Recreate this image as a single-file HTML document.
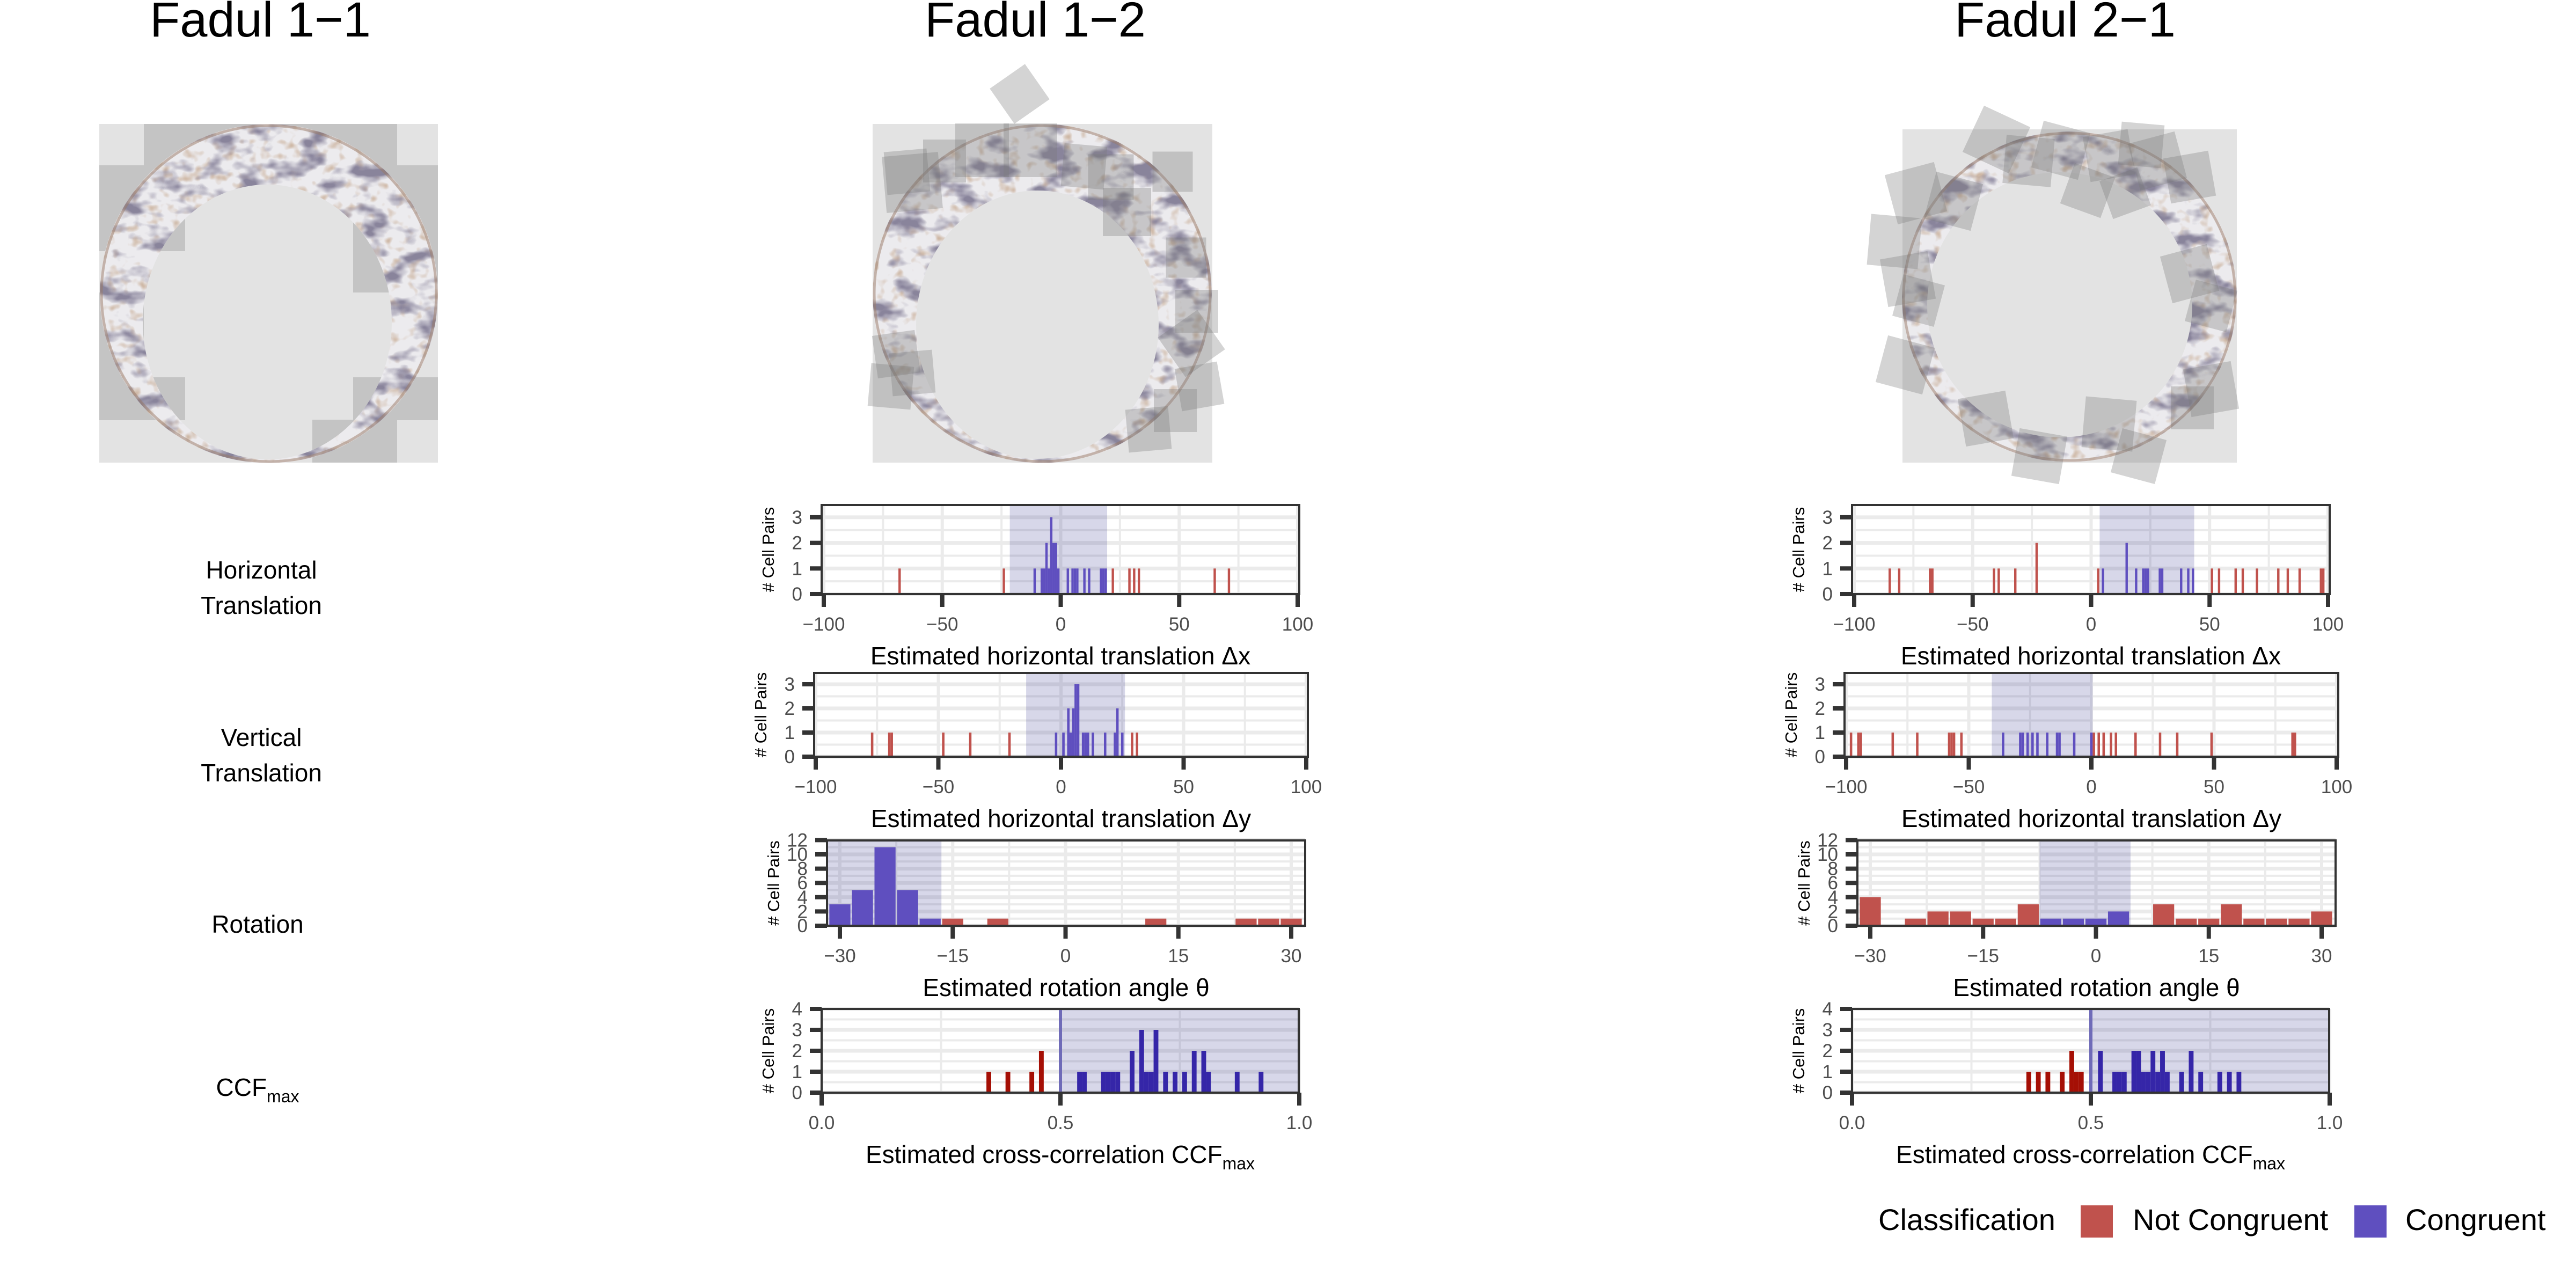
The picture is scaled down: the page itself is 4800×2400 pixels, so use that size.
<!DOCTYPE html>
<html><head><meta charset="utf-8"><style>
html,body{margin:0;padding:0;background:#fff;}
svg{display:block;font-family:"Liberation Sans",sans-serif;}
</style></head><body>
<svg id="fig" xmlns="http://www.w3.org/2000/svg" width="4800" height="2400" viewBox="0 0 4800 2400">
<defs>
<filter id="tex" x="0" y="0" width="100%" height="100%">
<feTurbulence type="fractalNoise" baseFrequency="0.018 0.03" numOctaves="3" seed="7" result="n"/>
<feColorMatrix in="n" type="matrix" values="0 0 0 0 0.25  0 0 0 0 0.23  0 0 0 0 0.33  -4 0 0 0 2.05"/>
</filter>
<filter id="tex2" x="0" y="0" width="100%" height="100%">
<feTurbulence type="fractalNoise" baseFrequency="0.05" numOctaves="2" seed="3" result="n"/>
<feColorMatrix in="n" type="matrix" values="0 0 0 0 0.62  0 0 0 0 0.48  0 0 0 0 0.38  0 -3.5 0 0 1.6"/>
</filter>
</defs>
<g id="images"></g>
<g id="charts"></g>
<g font-size="46" text-anchor="middle" fill="#000">
<text x="487" y="1078">Horizontal</text>
<text x="487" y="1144">Translation</text>
<text x="487" y="1390">Vertical</text>
<text x="487" y="1456">Translation</text>
<text x="480" y="1738">Rotation</text>
<text x="480" y="2042">CCF<tspan font-size="32" dy="12">max</tspan></text>
</g>
<g font-size="92" text-anchor="middle" fill="#000">
<text x="485" y="68">Fadul 1−1</text>
<text x="1929" y="68">Fadul 1−2</text>
<text x="3848" y="68">Fadul 2−1</text>
</g>
<g font-size="56" fill="#000">
<text x="3500" y="2292">Classification</text>
<rect x="3877" y="2246" width="60" height="60" fill="#c0524d"/>
<text x="3974" y="2292">Not Congruent</text>
<rect x="4387" y="2246" width="60" height="60" fill="#5f4fbf"/>
<text x="4482" y="2292">Congruent</text>
</g>
</svg>
<script>
// ---------- data ----------
const f12DxRedVals=[-68,-24,22,29,31,33,65,71];
const f12DxRedCounts=[1,1,1,1,1,1,1,1];
const f12DxBlueVals=[-11,-8,-7,-6,-5,-4,-3,-2,-1,3,5,6,7,10,12,17,18,19];
const f12DxBlueCounts=[1,1,1,2,1,3,2,2,1,1,1,1,1,1,1,1,1,1];
const f12DxShade=[-21.5,19.6];

const f12DyRedVals=[-77,-70,-69,-48,-37,-21,29,31];
const f12DyRedCounts=[1,1,1,1,1,1,1,1];
const f12DyBlueVals=[-2,1,3,4,5,6,7,9,10,11,13,18,22,23,25];
const f12DyBlueCounts=[1,1,2,1,2,3,3,1,1,1,1,1,1,2,1];
const f12DyShade=[-14.2,26.1];

const f12RotRedVals=[-15,-9,12,24,27,30];
const f12RotRedCounts=[1,1,1,1,1,1];
const f12RotBlueVals=[-30,-27,-24,-21,-18];
const f12RotBlueCounts=[3,5,11,5,1];
const f12RotShade=[-32,-16.5];

const f12CcfRedVals=[0.35,0.39,0.44,0.46];
const f12CcfRedCounts=[1,1,1,2];
const f12CcfBlueVals=[0.54,0.55,0.59,0.60,0.61,0.62,0.65,0.67,0.68,0.69,0.70,0.72,0.74,0.76,0.78,0.80,0.81,0.87,0.92];
const f12CcfBlueCounts=[1,1,1,1,1,1,2,3,1,1,3,1,1,1,2,2,1,1,1];

const f21DxRedVals=[-85,-81,-68,-67,-41,-39,-32,-23,3,51,54,61,64,70,79,83,88,97,98];
const f21DxRedCounts=[1,1,1,1,1,1,1,2,1,1,1,1,1,1,1,1,1,1,1];
const f21DxBlueVals=[5,15,19,22,23,24,29,30,38,41,43];
const f21DxBlueCounts=[1,2,1,1,1,1,1,1,1,1,1];
const f21DxShade=[3.6,43.5];

const f21DyRedVals=[-98,-95,-94,-81,-71,-58,-57,-56,-53,1,3,5,8,10,18,28,35,49,82,83];
const f21DyRedCounts=[1,1,1,1,1,1,1,1,1,1,1,1,1,1,1,1,1,1,1,1];
const f21DyBlueVals=[-36,-29,-28,-26,-24,-22,-18,-14,-13,-7,0];
const f21DyBlueCounts=[1,1,1,1,1,1,1,1,1,1,1];
const f21DyShade=[-40.6,0.5];

const f21RotRedVals=[-30,-24,-21,-18,-15,-12,-9,9,12,15,18,21,24,27,30];
const f21RotRedCounts=[4,1,2,2,1,1,3,3,1,1,3,1,1,1,2];
const f21RotBlueVals=[-6,-3,0,3];
const f21RotBlueCounts=[1,1,1,2];
const f21RotShade=[-7.5,4.6];

const f21CcfRedVals=[0.37,0.39,0.41,0.44,0.46,0.47,0.48];
const f21CcfRedCounts=[1,1,1,1,2,1,1];
const f21CcfBlueVals=[0.52,0.55,0.56,0.57,0.59,0.60,0.61,0.62,0.63,0.64,0.65,0.66,0.69,0.71,0.73,0.77,0.79,0.81];
const f21CcfBlueCounts=[2,1,1,1,2,2,1,1,2,1,2,1,1,2,1,1,1,1];

const transTicks=[-100,-50,0,50,100];
const transTickLabels=["−100","−50","0","50","100"];
const transY=[0,1,2,3];
const rotTicks=[-30,-15,0,15,30];
const rotTickLabels=["−30","−15","0","15","30"];
const rotY=[0,2,4,6,8,10,12];
const ccfTicks=[0,0.5,1];
const ccfTickLabels=["0.0","0.5","1.0"];
const ccfY=[0,1,2,3,4];

const NS="http://www.w3.org/2000/svg";
function mk(tag,attrs,parent){const e=document.createElementNS(NS,tag);for(const k in attrs)e.setAttribute(k,attrs[k]);parent.appendChild(e);return e;}

function panel(o){
  const root=document.getElementById('charts');
  const g=mk('g',{},root);
  
  
  const sx=v=>o.px0+(v-o.d0)/(o.d1-o.d0)*(o.px1-o.px0);
  const sy=v=>o.bottom-v*o.unit;
  const [bl,br]=[o.boxL,o.boxR];
  mk('rect',{x:bl,y:o.top,width:br-bl,height:o.bottom-o.top,fill:'#fff'},g);
  for(let i=0;i<o.yt.length-1;i++){const v=(o.yt[i]+o.yt[i+1])/2;mk('line',{x1:bl,x2:br,y1:sy(v),y2:sy(v),stroke:'#ebebeb','stroke-width':4},g);}
  for(let i=0;i<o.xt.length-1;i++){const v=(o.xt[i]+o.xt[i+1])/2;mk('line',{x1:sx(v),x2:sx(v),y1:o.top,y2:o.bottom,stroke:'#ebebeb','stroke-width':4},g);}
  o.yt.forEach(v=>mk('line',{x1:bl,x2:br,y1:sy(v),y2:sy(v),stroke:'#ebebeb','stroke-width':7},g));
  o.xt.forEach(v=>mk('line',{x1:sx(v),x2:sx(v),y1:o.top,y2:o.bottom,stroke:'#ebebeb','stroke-width':6},g));
  const s0=Math.max(bl,sx(o.shade[0])),s1=Math.min(br,sx(o.shade[1]));
  const sh=mk('rect',{x:s0,y:o.top,width:s1-s0,height:o.bottom-o.top,fill:'#2d2a8c','fill-opacity':0.19},g);
  
  
  if(o.thresh!==undefined){const l=mk('line',{x1:sx(o.thresh),x2:sx(o.thresh),y1:o.top,y2:o.bottom,stroke:'#6f6bb8','stroke-width':6},g);
    }
  const drawBars=(vals,counts,color,nm)=>{vals.forEach((v,i)=>{const x0=sx(v-o.bw/2),x1=sx(v+o.bw/2);
    const r=mk('rect',{x:x0,y:sy(counts[i]),width:Math.max(2,x1-x0),height:counts[i]*o.unit,fill:color},g);
    
    });};
  drawBars(o.redV,o.redC,o.red,'not-congruent');
  drawBars(o.blueV,o.blueC,o.blue,'congruent');
  mk('rect',{x:bl,y:o.top,width:br-bl,height:o.bottom-o.top,fill:'none',stroke:'#333','stroke-width':4},g);
  o.yt.forEach(v=>{mk('line',{x1:bl-22,x2:bl,y1:sy(v),y2:sy(v),stroke:'#333','stroke-width':8},g);
    const t=mk('text',{x:bl-36,y:sy(v)+12,'text-anchor':'end','font-size':35,fill:'#4d4d4d'},g);t.textContent=v;
    });
  o.xt.forEach((v,i)=>{mk('line',{x1:sx(v),x2:sx(v),y1:o.bottom,y2:o.bottom+24,stroke:'#333','stroke-width':8},g);
    const t=mk('text',{x:sx(v),y:o.bottom+68,'text-anchor':'middle','font-size':35,fill:'#4d4d4d'},g);t.textContent=o.xl[i];
    });
  const cy=(o.top+o.bottom)/2, yx=bl-100;
  const yt=mk('text',{x:yx,y:cy,'text-anchor':'middle','font-size':31,fill:'#000',transform:`rotate(-90 ${yx} ${cy})`,dy:11},g);
  yt.textContent='# Cell Pairs';
  
  const xt=mk('text',{x:(bl+br)/2,y:o.bottom+131,'text-anchor':'middle','font-size':46,fill:'#000'},g);
  
  if(o.sub){xt.textContent=o.title;const ts=mk('tspan',{'font-size':32,dy:12},xt);ts.textContent=o.sub;}
  else xt.textContent=o.title;
}
const RED='#c0524d',BLUE='#5f4fbf',RED2='#a50f05',BLUE2='#3526a8';
[[0,'fadul-1-2',[f12DxRedVals,f12DxRedCounts,f12DxBlueVals,f12DxBlueCounts,f12DxShade],[f12DyRedVals,f12DyRedCounts,f12DyBlueVals,f12DyBlueCounts,f12DyShade],[f12RotRedVals,f12RotRedCounts,f12RotBlueVals,f12RotBlueCounts,f12RotShade],[f12CcfRedVals,f12CcfRedCounts,f12CcfBlueVals,f12CcfBlueCounts]],
 [1920,'fadul-2-1',[f21DxRedVals,f21DxRedCounts,f21DxBlueVals,f21DxBlueCounts,f21DxShade],[f21DyRedVals,f21DyRedCounts,f21DyBlueVals,f21DyBlueCounts,f21DyShade],[f21RotRedVals,f21RotRedCounts,f21RotBlueVals,f21RotBlueCounts,f21RotShade],[f21CcfRedVals,f21CcfRedCounts,f21CcfBlueVals,f21CcfBlueCounts]]
].forEach(([dx,nm,A,B,C,D])=>{
  panel({name:nm+'-dx-histogram',boxL:1531+dx,boxR:2421+dx,top:941,bottom:1107,px0:1535+dx,px1:2418+dx,d0:-100,d1:100,unit:47.7,bw:1,
    xt:transTicks,xl:transTickLabels,yt:transY,redV:A[0],redC:A[1],blueV:A[2],blueC:A[3],shade:A[4],red:RED,blue:BLUE,title:'Estimated horizontal translation Δx'});
  panel({name:nm+'-dy-histogram',boxL:1517+dx,boxR:2437+dx,top:1254,bottom:1410,px0:1520+dx,px1:2434+dx,d0:-100,d1:100,unit:45,bw:1,
    xt:transTicks,xl:transTickLabels,yt:transY,redV:B[0],redC:B[1],blueV:B[2],blueC:B[3],shade:B[4],red:RED,blue:BLUE,title:'Estimated horizontal translation Δy'});
  panel({name:nm+'-rotation-histogram',boxL:1541+dx,boxR:2432+dx,top:1566,bottom:1725,px0:1565+dx,px1:2406+dx,d0:-30,d1:30,unit:13.3,bw:2.8,
    xt:rotTicks,xl:rotTickLabels,yt:rotY,redV:C[0],redC:C[1],blueV:C[2],blueC:C[3],shade:C[4],red:RED,blue:BLUE,title:'Estimated rotation angle θ'});
  panel({name:nm+'-ccf-histogram',boxL:1531+dx,boxR:2420+dx,top:1880,bottom:2036,px0:1531+dx,px1:2421+dx,d0:0,d1:1,unit:39,bw:0.01,thresh:0.5,
    xt:ccfTicks,xl:ccfTickLabels,yt:ccfY,redV:D[0],redC:D[1],blueV:D[2],blueC:D[3],shade:[0.5,1],red:RED2,blue:BLUE2,title:'Estimated cross-correlation CCF',sub:'max'});
});

// ---------- images ----------
const IG=document.getElementById('images');
function scan(name,box,outer,inner,cells,squares){
  const g=mk('g',{},IG);
  
  
  mk('rect',{x:box[0],y:box[1],width:box[2],height:box[3],fill:'#e3e3e3'},g);
  cells.forEach(c=>mk('rect',{x:c[0],y:c[1],width:c[2],height:c[3],fill:'#c4c4c4'},g));
  const d=`M${outer[0]-outer[2]},${outer[1]} a${outer[2]},${outer[3]} 0 1,0 ${2*outer[2]},0 a${outer[2]},${outer[3]} 0 1,0 ${-2*outer[2]},0 Z M${inner[0]-inner[2]},${inner[1]} a${inner[2]},${inner[3]} 0 1,0 ${2*inner[2]},0 a${inner[2]},${inner[3]} 0 1,0 ${-2*inner[2]},0 Z`;
  const cid='clip-'+name;
  const cp=mk('clipPath',{id:cid},g);mk('path',{d:d,'clip-rule':'evenodd'},cp);
  const rg=mk('g',{'clip-path':`url(#${cid})`},g);
  mk('rect',{x:box[0]-20,y:box[1]-20,width:box[2]+40,height:box[3]+40,fill:'#ecebee'},rg);
  mk('rect',{x:box[0]-20,y:box[1]-20,width:box[2]+40,height:box[3]+40,filter:'url(#tex2)'},rg);
  mk('rect',{x:box[0]-20,y:box[1]-20,width:box[2]+40,height:box[3]+40,filter:'url(#tex)'},rg);
  mk('ellipse',{cx:outer[0],cy:outer[1],rx:outer[2]-3,ry:outer[3]-3,fill:'none',stroke:'#9a7a66','stroke-width':5,'stroke-opacity':0.5},rg);
  squares.forEach(s=>mk('rect',{x:s[0]-s[2]/2,y:s[1]-s[2]/2,width:s[2],height:s[2],fill:'#7a7a7a','fill-opacity':0.32,transform:`rotate(${s[3]} ${s[0]} ${s[1]})`},g));
}
scan('scan-fadul-1-1',[185,231,631,631],[501,547,315,316],[498,600,232,256],
 [[268,231,472,80],[185,308,160,160],[658,308,158,237],[185,545,83,160],[185,703,160,80],[658,703,158,80],[582,782,158,80]],[]);
scan('scan-fadul-1-2',[1626,231,633,631],[1942,547,316,316],[1933,605,226,250],[],
 [[1900,175,80,-35],[1690,320,80,-5],[1700,340,105,-5],[1760,300,80,0],[1830,280,100,0],[1920,280,100,0],[2020,310,80,5],[2070,330,85,0],[2100,395,90,0],[2185,320,75,0],[2210,480,75,0],[2230,580,80,0],[2220,640,90,-35],[2235,720,80,-10],[2190,765,80,0],[1670,660,80,-8],[1700,695,80,-5],[1660,720,80,5],[2140,800,80,-5]]);
scan('scan-fadul-2-1',[3545,241,623,621],[3856,553,312,308],[3838,568,247,247],[],
 [[3720,260,95,25],[3780,300,90,5],[3840,280,90,15],[3930,290,85,-10],[3990,270,80,5],[4020,300,90,-15],[4080,330,85,-10],[3570,360,95,-15],[3640,375,90,15],[3890,355,80,20],[3960,360,75,-20],[3530,450,95,5],[3555,520,90,-10],[3575,560,80,15],[3550,680,90,15],[4080,510,90,-15],[4120,570,80,15],[4120,725,90,-10],[3700,780,90,-10],[3800,850,90,10],[3930,790,95,5],[3985,850,85,15],[4085,760,80,0]]);
</script>
</body></html>
